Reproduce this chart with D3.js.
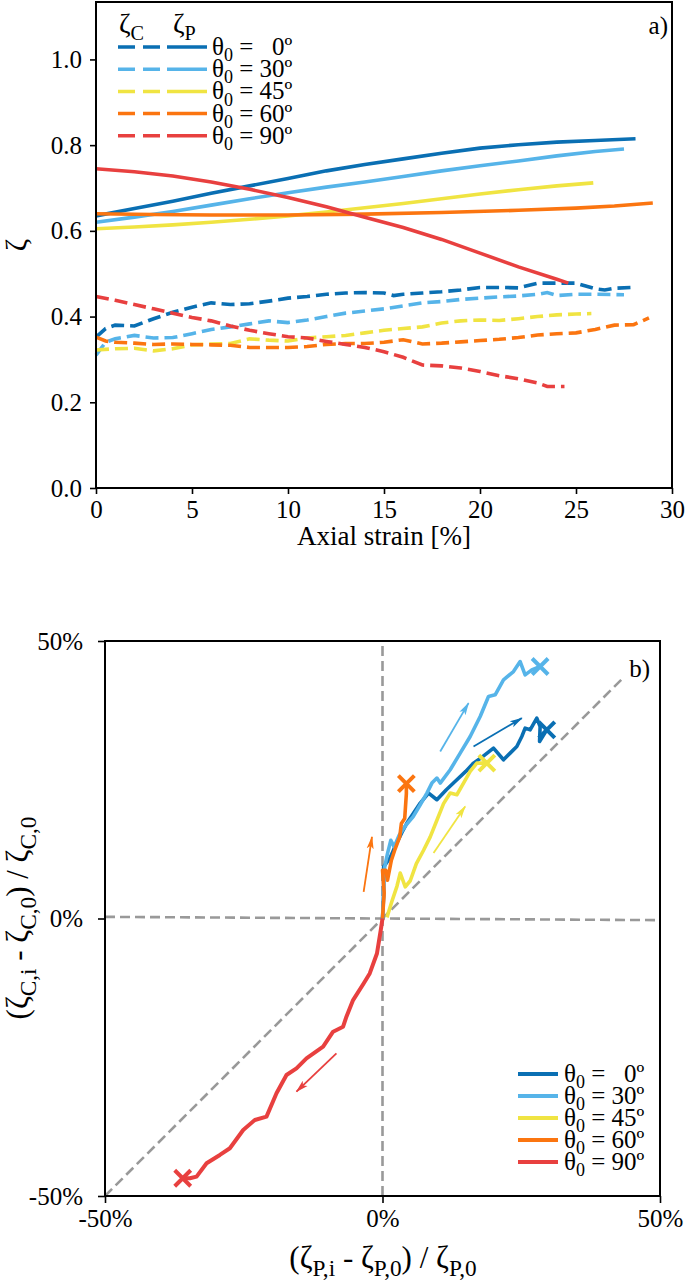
<!DOCTYPE html>
<html>
<head>
<meta charset="utf-8">
<script src="https://cdn.jsdelivr.net/npm/d3@7"></script>
<style>
  body { margin: 0; background: #fff; }
  svg { display: block; }
  text { font-family: "Liberation Serif", "DejaVu Serif", serif; fill: #000; white-space: pre; }
</style>
</head>
<body>
<svg id="fig" width="685" height="1280"></svg>
<script>
// ---- labels / categories
var angles = ["  0º", "30º", "45º", "60º", "90º"];
var colors = ["#0a6fb3", "#56b4e9", "#f0e442", "#fb7510", "#e8403f"];
var strainTicks = [0, 5, 10, 15, 20, 25, 30];
var zetaTicks = [0.0, 0.2, 0.4, 0.6, 0.8, 1.0];
var relTicks = [-50, 0, 50];

// ---- panel a) : zeta_P (solid) vs axial strain
var strainP0 = [0, 2, 4, 6, 8, 10, 12, 14, 16, 18, 20, 22, 24, 26, 28.1];
var zetaP0 = [0.635, 0.652, 0.669, 0.688, 0.705, 0.722, 0.74, 0.755, 0.768, 0.781, 0.793, 0.801, 0.807, 0.811, 0.815];
var strainP30 = [0, 2, 4, 6, 8, 10, 12, 14, 16, 18, 20, 22, 24, 26, 27.5];
var zetaP30 = [0.62, 0.632, 0.645, 0.66, 0.675, 0.689, 0.702, 0.714, 0.727, 0.74, 0.752, 0.763, 0.775, 0.785, 0.791];
var strainP45 = [0, 2, 4, 6, 8, 10, 12, 14, 16, 18, 20, 22, 24, 25.9];
var zetaP45 = [0.605, 0.609, 0.614, 0.62, 0.627, 0.635, 0.644, 0.654, 0.664, 0.675, 0.686, 0.696, 0.705, 0.712];
var strainP60 = [0, 3, 6, 10, 14, 18, 22, 25, 27, 29];
var zetaP60 = [0.64, 0.638, 0.637, 0.637, 0.639, 0.643, 0.648, 0.653, 0.658, 0.665];
var strainP90 = [0, 2, 4, 6, 8, 10, 12, 14, 16, 18, 20, 22, 24, 24.6];
var zetaP90 = [0.745, 0.738, 0.728, 0.714, 0.697, 0.678, 0.656, 0.632, 0.608, 0.58, 0.548, 0.516, 0.487, 0.478];

// ---- panel a) : zeta_C (dashed) vs axial strain
var strainC0 = [0, 0.5, 1, 2, 3, 4, 5, 6, 7, 8, 9, 10, 11, 12, 13, 14, 15, 15.5, 16, 17, 18, 19, 20, 21, 22, 23, 24, 25, 26, 26.5, 27, 28];
var zetaC0 = [0.352, 0.372, 0.38, 0.378, 0.395, 0.41, 0.422, 0.432, 0.428, 0.43, 0.436, 0.443, 0.447, 0.452, 0.455, 0.456, 0.455, 0.449, 0.452, 0.455, 0.458, 0.462, 0.468, 0.468, 0.467, 0.478, 0.478, 0.478, 0.465, 0.462, 0.466, 0.468];
var strainC30 = [0, 0.5, 1, 2, 3, 4, 5, 6, 7, 8, 9, 10, 11, 12, 13, 14, 15, 16, 17, 18, 19, 20, 21, 22, 23, 23.5, 24, 25, 26, 27.5];
var zetaC30 = [0.31, 0.34, 0.348, 0.356, 0.35, 0.351, 0.36, 0.37, 0.376, 0.383, 0.39, 0.386, 0.392, 0.4, 0.408, 0.413, 0.418, 0.425, 0.432, 0.435, 0.44, 0.443, 0.446, 0.448, 0.452, 0.456, 0.449, 0.452, 0.452, 0.451];
var strainC45 = [0, 1, 2, 3, 4, 5, 6, 7, 8, 9, 10, 11, 12, 13, 14, 15, 16, 17, 18, 19, 20, 21, 22, 23, 24, 25, 25.8];
var zetaC45 = [0.322, 0.325, 0.326, 0.32, 0.325, 0.334, 0.336, 0.337, 0.348, 0.345, 0.343, 0.35, 0.353, 0.356, 0.362, 0.368, 0.372, 0.376, 0.385, 0.39, 0.392, 0.391, 0.395, 0.4, 0.404, 0.406, 0.407];
var strainC60 = [0, 0.5, 1, 2, 3, 4, 5, 6, 7, 8, 9, 10, 11, 12, 13, 14, 15, 16, 17, 18, 19, 20, 21, 22, 23, 24, 25, 26, 27, 28, 28.8];
var zetaC60 = [0.352, 0.343, 0.34, 0.338, 0.335, 0.336, 0.335, 0.334, 0.333, 0.328, 0.328, 0.328, 0.33, 0.335, 0.337, 0.337, 0.34, 0.346, 0.336, 0.338, 0.341, 0.344, 0.347, 0.351, 0.357, 0.36, 0.362, 0.37, 0.38, 0.381, 0.397];
var strainC90 = [0, 1, 2, 3, 4, 5, 6, 7, 8, 9, 10, 11, 12, 13, 14, 15, 16, 17, 18, 19, 20, 21, 22, 23, 23.5, 24.4];
var zetaC90 = [0.447, 0.438, 0.428, 0.418, 0.408, 0.398, 0.39, 0.378, 0.368, 0.36, 0.353, 0.35, 0.342, 0.335, 0.328, 0.318, 0.305, 0.287, 0.285, 0.28, 0.272, 0.262, 0.255, 0.245, 0.237, 0.237];

// ---- panel b) : relative change of zeta_P (x, %) vs zeta_C (y, %)
var relP0 = [0, 0.2, 0.2, 1.4, 2.5, 3.5, 4.4, 5.6, 6.8, 8.3, 9.8, 11.5, 13.4, 15, 16.4, 18.1, 20, 21.8, 23, 24.2, 25.1, 25.7, 26.6, 27.8, 28.4, 28.3, 29.6];
var relC0 = [0, 4, 9.3, 11, 13.5, 15.5, 17.2, 19, 20.8, 22.6, 21.4, 23.2, 25, 26.5, 28, 29.2, 30.7, 28.6, 29.8, 31, 32.8, 34.3, 34, 36.1, 34.6, 31.9, 34];
var relP30 = [0, 0.2, 0.4, 0.9, 1.5, 2.1, 3, 4.2, 5.5, 6.8, 8, 8.9, 9.8, 10.4, 12.2, 14, 15.8, 17.6, 19.1, 20.3, 21.8, 23.6, 24.8, 25.7, 26.9, 28.4];
var relC30 = [0, 5, 9.3, 11.7, 14.1, 12.9, 15, 16.8, 18.3, 20.5, 22.6, 24.4, 25.3, 24.4, 26.8, 29.8, 32.8, 36.4, 40, 40.3, 43, 44.5, 46.3, 43.9, 44.8, 45.4];
var relP45 = [0.8, 1.7, 2.6, 3.2, 4.1, 5, 6.1, 7.4, 8.6, 9.8, 11, 12.2, 13.4, 14.6, 15.8, 17, 18.8];
var relC45 = [0.2, 3.1, 5.8, 8.2, 5.7, 6.8, 9.9, 12.3, 14.7, 17.7, 20.7, 22.6, 22.3, 24.4, 26.5, 28, 28];
var relP60 = [0, 0.3, 0, 0.6, 0.9, 1.6, 2.2, 3.1, 3.4, 4, 4.3, 4.3];
var relC60 = [0, 4.6, 8.7, 8.7, 6.9, 10.5, 12.3, 14.7, 17.1, 18, 22.5, 24.3];
var relP90 = [0, -0.3, -1, -2.3, -3.4, -5.3, -6.5, -7.1, -8.9, -10.7, -13.7, -15.5, -17.3, -19.1, -20.9, -23, -25.1, -27.5, -29.3, -31.7, -33.5, -34.7, -36];
var relC90 = [0, -2, -6.3, -9.9, -11.7, -14.7, -17.7, -19.5, -20.4, -23.1, -25.2, -27, -28.2, -31.5, -35.7, -36.3, -38.1, -41.4, -42.6, -44.1, -46.5, -46.8, -46.8];

// direction arrows in panel b) (start / end, in %)
var arrowStartP = [16.4, 10.4, 9.2, -3.4, -8.3];
var arrowStartC = [31, 30.1, 11.8, 4.8, -24.3];
var arrowEndP = [25.1, 15.5, 14.9, -1.9, -15.5];
var arrowEndC = [36.1, 38.8, 20.2, 14.7, -31.2];

// reference lines in panel b)
var diagonal = [-50, 43.5];

function zip(xs, ys) { return xs.map(function(x, i) { return [x, ys[i]]; }); }

var seriesP = [zip(strainP0, zetaP0), zip(strainP30, zetaP30), zip(strainP45, zetaP45), zip(strainP60, zetaP60), zip(strainP90, zetaP90)];
var seriesC = [zip(strainC0, zetaC0), zip(strainC30, zetaC30), zip(strainC45, zetaC45), zip(strainC60, zetaC60), zip(strainC90, zetaC90)];
var seriesRel = [zip(relP0, relC0), zip(relP30, relC30), zip(relP45, relC45), zip(relP60, relC60), zip(relP90, relC90)];

var svg = d3.select("#fig");
var FS = 25;

// text with subscripts: parts = [[string, isSub], ...]
function richText(g, parts, size, subScale) {
	subScale = subScale || 0.72;
	var t = g.append("text").attr("font-size", size);
	var down = false;
	parts.forEach(function(p) {
		var ts = t.append("tspan").text(p[0]);
		if (p[1] && !down) { ts.attr("dy", size * 0.25).attr("font-size", size * subScale); down = true; }
		else if (p[1]) { ts.attr("font-size", size * subScale); }
		else if (down) { ts.attr("dy", -size * 0.25); down = false; }
	});
	return t;
}

function styleAxis(g) {
	g.attr("font-size", null).attr("font-family", null);
	g.select(".domain").remove();
	g.selectAll(".tick line").attr("stroke", "#000").attr("stroke-width", 1.6);
	g.selectAll(".tick text").attr("font-size", FS);
}

// ================= panel a)
var xA = d3.scaleLinear().domain([0, 30]).range([96, 672]);
var yA = d3.scaleLinear().domain([0, 1.134]).range([488, 2]);

var lineA = d3.line().x(function(d) { return xA(d[0]); }).y(function(d) { return yA(d[1]); });

svg.append("g").attr("transform", "translate(0,488)")
	.call(d3.axisBottom(xA).tickValues(strainTicks).tickSize(6).tickPadding(6).tickFormat(d3.format("d")))
	.call(styleAxis);
svg.append("g").attr("transform", "translate(96,0)")
	.call(d3.axisLeft(yA).tickValues(zetaTicks).tickSize(6).tickPadding(8).tickFormat(d3.format(".1f")))
	.call(styleAxis);

// dashed zeta_C curves, then solid zeta_P curves
seriesC.forEach(function(s, i) {
	svg.append("path").datum(s).attr("d", lineA)
		.attr("fill", "none").attr("stroke", colors[i]).attr("stroke-width", 3.6)
		.attr("stroke-dasharray", "13,6");
});
seriesP.forEach(function(s, i) {
	svg.append("path").datum(s).attr("d", lineA)
		.attr("fill", "none").attr("stroke", colors[i]).attr("stroke-width", 3.6);
});

svg.append("rect").attr("x", 96).attr("y", 2).attr("width", 576).attr("height", 486)
	.attr("fill", "none").attr("stroke", "#000").attr("stroke-width", 2);

// legend a)
var legA = svg.append("g");
richText(legA.append("g").attr("transform", "translate(119,33)"), [["ζ", 0], ["C", 1]], 28);
richText(legA.append("g").attr("transform", "translate(173,33)"), [["ζ", 0], ["P", 1]], 28);
angles.forEach(function(a, i) {
	var y = 47 + i * 22.2;
	legA.append("line").attr("x1", 118).attr("x2", 160).attr("y1", y).attr("y2", y)
		.attr("stroke", colors[i]).attr("stroke-width", 3.5).attr("stroke-dasharray", "17,8");
	legA.append("line").attr("x1", 167).attr("x2", 207).attr("y1", y).attr("y2", y)
		.attr("stroke", colors[i]).attr("stroke-width", 3.5);
	richText(legA.append("g").attr("transform", "translate(212," + (y + 8) + ")"),
		[["θ", 0], ["0", 1], [" = " + a, 0]], FS);
});

svg.append("text").attr("x", 668).attr("y", 34).attr("text-anchor", "end").attr("font-size", FS).text("a)");
svg.append("text").attr("x", 384).attr("y", 545).attr("text-anchor", "middle").attr("font-size", 27).text("Axial strain [%]");
svg.append("text").attr("transform", "translate(26,245) rotate(-90)").attr("text-anchor", "middle")
	.attr("font-size", 30).text("ζ");

// ================= panel b)
var xB = d3.scaleLinear().domain([-50, 50]).range([105, 660]);
var yB = d3.scaleLinear().domain([-50, 50]).range([1196, 641]);
var lineB = d3.line().x(function(d) { return xB(d[0]); }).y(function(d) { return yB(d[1]); });
var pct = function(d) { return d + "%"; };

svg.append("g").attr("transform", "translate(0,1196)")
	.call(d3.axisBottom(xB).tickValues(relTicks).tickSize(7).tickPadding(6).tickFormat(pct))
	.call(styleAxis);
svg.append("g").attr("transform", "translate(105,0)")
	.call(d3.axisLeft(yB).tickValues(relTicks).tickSize(7).tickPadding(15).tickFormat(pct))
	.call(styleAxis);

// grey reference lines
var refLines = [
	[[0, -50], [0, 50]],
	[[-50, 0.3], [50, -0.3]],
	[[diagonal[0], diagonal[0]], [diagonal[1], diagonal[1]]]
];
refLines.forEach(function(r) {
	svg.append("path").datum(r).attr("d", lineB)
		.attr("fill", "none").attr("stroke", "#999").attr("stroke-width", 2.6).attr("stroke-dasharray", "10,5");
});

// arrow heads
var defs = svg.append("defs");
colors.forEach(function(c, i) {
	defs.append("marker").attr("id", "ah" + i).attr("markerUnits", "userSpaceOnUse")
		.attr("markerWidth", 14).attr("markerHeight", 10).attr("refX", 12).attr("refY", 5)
		.attr("orient", "auto")
		.append("path").attr("d", "M0,1.5 L13,5 L0,8.5 L3,5 Z").attr("fill", c);
});

seriesRel.forEach(function(s, i) {
	svg.append("path").datum(s).attr("d", lineB)
		.attr("fill", "none").attr("stroke", colors[i]).attr("stroke-width", i == 4 ? 4 : 3.6)
		.attr("stroke-linejoin", "round");
});
seriesRel.forEach(function(s, i) {
	var last = s[s.length - 1];
	svg.append("path")
		.attr("transform", "translate(" + xB(last[0]) + "," + yB(last[1]) + ")")
		.attr("d", "M-8,-8L8,8M-8,8L8,-8")
		.attr("stroke", colors[i]).attr("stroke-width", 4).attr("fill", "none");
	svg.append("line")
		.attr("x1", xB(arrowStartP[i])).attr("y1", yB(arrowStartC[i]))
		.attr("x2", xB(arrowEndP[i])).attr("y2", yB(arrowEndC[i]))
		.attr("stroke", colors[i]).attr("stroke-width", 1.8)
		.attr("marker-end", "url(#ah" + i + ")");
});

svg.append("rect").attr("x", 105).attr("y", 641).attr("width", 555).attr("height", 555)
	.attr("fill", "none").attr("stroke", "#000").attr("stroke-width", 2);

// legend b)
var legB = svg.append("g");
angles.forEach(function(a, i) {
	var y = 1074 + i * 22;
	legB.append("line").attr("x1", 518).attr("x2", 558).attr("y1", y).attr("y2", y)
		.attr("stroke", colors[i]).attr("stroke-width", 4);
	richText(legB.append("g").attr("transform", "translate(564," + (y + 8) + ")"),
		[["θ", 0], ["0", 1], [" = " + a, 0]], FS);
});

svg.append("text").attr("x", 650).attr("y", 677).attr("text-anchor", "end").attr("font-size", FS).text("b)");

var xl = richText(svg.append("g").attr("transform", "translate(383,1268)"),
	[["(ζ", 0], ["P,i", 1], [" - ζ", 0], ["P,0", 1], [") / ζ", 0], ["P,0", 1]], 31, 0.75);
xl.attr("text-anchor", "middle");
var yl = richText(svg.append("g").attr("transform", "translate(28,918) rotate(-90)"),
	[["(ζ", 0], ["C,i", 1], [" - ζ", 0], ["C,0", 1], [") / ζ", 0], ["C,0", 1]], 31, 0.75);
yl.attr("text-anchor", "middle");
</script>
</body>
</html>
